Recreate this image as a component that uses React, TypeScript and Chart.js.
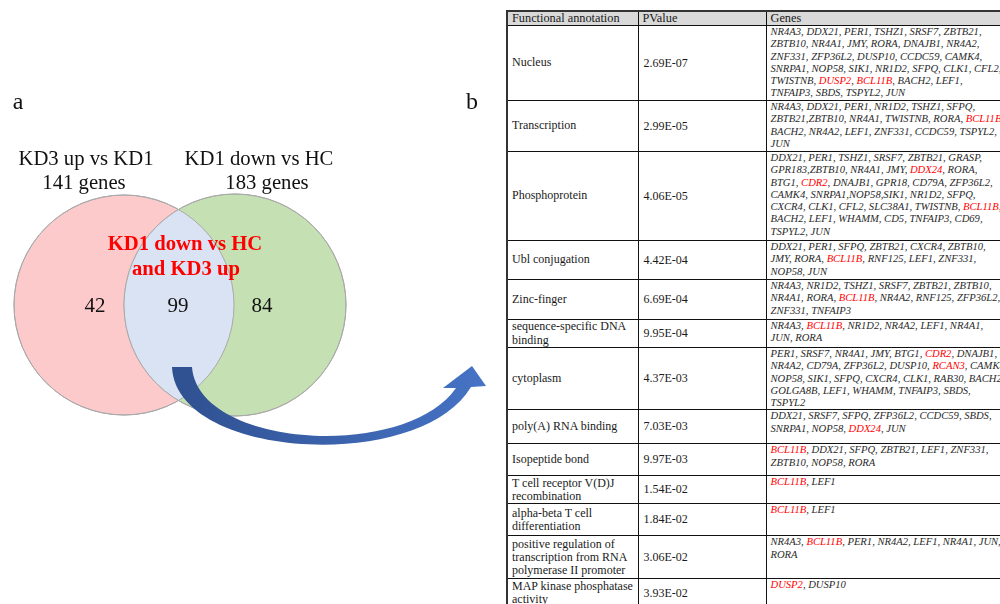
import React, { useEffect, useRef } from "react";
import { Chart, registerables } from "chart.js";

Chart.register(...registerables);

// ---------- Venn data ----------
const setNames = ["KD3 up vs KD1", "KD1 down vs HC"];
const setTotals = [141, 183];
const regionCounts = [42, 99, 84]; // left only, overlap, right only
const overlapTitle = ["KD1 down vs HC", "and KD3 up"];
const panelLetters = ["a", "b"];

// ---------- Table data ----------
const tableHeader = ["Functional annotation", "PValue", "Genes"];
const annotations = [
  ["Nucleus"],
  ["Transcription"],
  ["Phosphoprotein"],
  ["Ubl conjugation"],
  ["Zinc-finger"],
  ["sequence-specific DNA", "binding"],
  ["cytoplasm"],
  ["poly(A) RNA binding"],
  ["Isopeptide bond"],
  ["T cell receptor V(D)J", "recombination"],
  ["alpha-beta T cell", "differentiation"],
  ["positive regulation of", "transcription from RNA", "polymerase II promoter"],
  ["MAP kinase phosphatase", "activity"],
];
const pValues = [
  "2.69E-07", "2.99E-05", "4.06E-05", "4.42E-04", "6.69E-04", "9.95E-04", "4.37E-03",
  "7.03E-03", "9.97E-03", "1.54E-02", "1.84E-02", "3.06E-02", "3.93E-02",
];
const geneLines = [
  [
    "NR4A3, DDX21, PER1, TSHZ1, SRSF7, ZBTB21,",
    "ZBTB10, NR4A1, JMY, RORA, DNAJB1, NR4A2,",
    "ZNF331, ZFP36L2, DUSP10, CCDC59, CAMK4,",
    "SNRPA1, NOP58, SIK1, NR1D2, SFPQ, CLK1, CFL2,",
    "TWISTNB, DUSP2, BCL11B, BACH2, LEF1,",
    "TNFAIP3, SBDS, TSPYL2, JUN",
  ],
  [
    "NR4A3, DDX21, PER1, NR1D2, TSHZ1, SFPQ,",
    "ZBTB21,ZBTB10, NR4A1, TWISTNB, RORA, BCL11B,",
    "BACH2, NR4A2, LEF1, ZNF331, CCDC59, TSPYL2,",
    "JUN",
  ],
  [
    "DDX21, PER1, TSHZ1, SRSF7, ZBTB21, GRASP,",
    "GPR183,ZBTB10, NR4A1, JMY, DDX24, RORA,",
    "BTG1, CDR2, DNAJB1, GPR18, CD79A, ZFP36L2,",
    "CAMK4, SNRPA1,NOP58,SIK1, NR1D2, SFPQ,",
    "CXCR4, CLK1, CFL2, SLC38A1, TWISTNB, BCL11B,",
    "BACH2, LEF1, WHAMM, CD5, TNFAIP3, CD69,",
    "TSPYL2, JUN",
  ],
  [
    "DDX21, PER1, SFPQ, ZBTB21, CXCR4, ZBTB10,",
    "JMY, RORA, BCL11B, RNF125, LEF1, ZNF331,",
    "NOP58, JUN",
  ],
  [
    "NR4A3, NR1D2, TSHZ1, SRSF7, ZBTB21, ZBTB10,",
    "NR4A1, RORA, BCL11B, NR4A2, RNF125, ZFP36L2,",
    "ZNF331, TNFAIP3",
  ],
  ["NR4A3, BCL11B, NR1D2, NR4A2, LEF1, NR4A1,", "JUN, RORA"],
  [
    "PER1, SRSF7, NR4A1, JMY, BTG1, CDR2, DNAJB1,",
    "NR4A2, CD79A, ZFP36L2, DUSP10, RCAN3, CAMK4,",
    "NOP58, SIK1, SFPQ, CXCR4, CLK1, RAB30, BACH2,",
    "GOLGA8B, LEF1, WHAMM, TNFAIP3, SBDS,",
    "TSPYL2",
  ],
  ["DDX21, SRSF7, SFPQ, ZFP36L2, CCDC59, SBDS,", "SNRPA1, NOP58, DDX24, JUN"],
  ["BCL11B, DDX21, SFPQ, ZBTB21, LEF1, ZNF331,", "ZBTB10, NOP58, RORA"],
  ["BCL11B, LEF1"],
  ["BCL11B, LEF1"],
  ["NR4A3, BCL11B, PER1, NR4A2, LEF1, NR4A1, JUN,", "RORA"],
  ["DUSP2, DUSP10"],
];
const highlightedGenes = ["DUSP2", "BCL11B", "DDX24", "CDR2", "RCAN3"];

// ---------- layout (pixels, not data) ----------
const rowHeights = [75, 51, 89, 39, 40, 28, 60, 34, 32, 28, 32, 43, 29];
const SERIF = '"Liberation Serif", "Times New Roman", serif';

const vennPlugin = {
  id: "vennDecor",
  afterDatasetsDraw(chart: any) {
    const ctx: CanvasRenderingContext2D = chart.ctx;
    const xs = chart.scales.x;
    const ys = chart.scales.y;
    const px = (v: number) => xs.getPixelForValue(v);
    const py = (v: number) => ys.getPixelForValue(v);
    const els = chart.getDatasetMeta(0).data;
    const A = els[0];
    const B = els[1];
    const rA = A.options.radius;
    const rB = B.options.radius;

    ctx.save();
    ctx.beginPath();
    ctx.arc(A.x, A.y, rA, 0, Math.PI * 2);
    ctx.clip();
    ctx.beginPath();
    ctx.arc(B.x, B.y, rB, 0, Math.PI * 2);
    ctx.fillStyle = "#dae3f3";
    ctx.fill();
    ctx.restore();

    ctx.save();
    ctx.strokeStyle = "#a9a9a9";
    ctx.lineWidth = 1;
    ctx.beginPath();
    ctx.arc(A.x, A.y, rA, 0, Math.PI * 2);
    ctx.stroke();
    ctx.beginPath();
    ctx.arc(B.x, B.y, rB, 0, Math.PI * 2);
    ctx.stroke();
    ctx.restore();

    ctx.save();
    ctx.textAlign = "center";
    ctx.textBaseline = "middle";
    ctx.fillStyle = "#111";
    ctx.font = `24px ${SERIF}`;
    ctx.fillText(panelLetters[0], px(18), py(103));
    ctx.fillText(panelLetters[1], px(472), py(103));

    ctx.font = `20.7px ${SERIF}`;
    ctx.fillText(setNames[0], px(86), py(160));
    ctx.fillText(`${setTotals[0]} genes`, px(84), py(184));
    ctx.fillText(setNames[1], px(259), py(160));
    ctx.fillText(`${setTotals[1]} genes`, px(267), py(184));

    ctx.font = `21px ${SERIF}`;
    ctx.fillText(String(regionCounts[0]), px(95), py(306));
    ctx.fillText(String(regionCounts[1]), px(178), py(306));
    ctx.fillText(String(regionCounts[2]), px(262), py(306));

    ctx.fillStyle = "#ff0000";
    ctx.font = `bold 20.7px ${SERIF}`;
    ctx.fillText(overlapTitle[0], px(185), py(245));
    ctx.fillText(overlapTitle[1], px(186), py(270));
    ctx.restore();

    ctx.save();
    const grad = ctx.createLinearGradient(px(170), 0, px(486), 0);
    grad.addColorStop(0, "#2f5090");
    grad.addColorStop(1, "#4673c6");
    ctx.fillStyle = grad;
    ctx.beginPath();
    ctx.moveTo(px(172), py(367));
    ctx.lineTo(px(192), py(367));
    ctx.bezierCurveTo(px(198), py(448), px(405), py(461), px(456), py(388));
    ctx.lineTo(px(443), py(388));
    ctx.lineTo(px(472), py(366));
    ctx.lineTo(px(486), py(386));
    ctx.lineTo(px(471), py(387));
    ctx.bezierCurveTo(px(420), py(473), px(176), py(460), px(172), py(367));
    ctx.closePath();
    ctx.fill();
    ctx.restore();
  },
};

function GeneLine({ text }: { text: string }) {
  const parts = text.split(/(,\s*)/);
  return (
    <div style={{ whiteSpace: "nowrap" }}>
      {parts.map((p, i) =>
        highlightedGenes.includes(p) ? (
          <span key={i} style={{ color: "#ff0000" }}>{p}</span>
        ) : (
          <span key={i}>{p}</span>
        )
      )}
    </div>
  );
}

export default function App() {
  const ref = useRef<HTMLCanvasElement | null>(null);

  useEffect(() => {
    if (!ref.current) return;
    const chart = new Chart(ref.current, {
      type: "bubble",
      data: {
        datasets: [
          {
            data: [
              { x: 124, y: 305, r: 110 },
              { x: 235, y: 305, r: 111 },
            ],
            backgroundColor: ["#fccaca", "#c5e0b3"],
            borderColor: "#a9a9a9",
            borderWidth: 1,
            clip: false as any,
          },
        ],
      },
      options: {
        responsive: false,
        animation: false,
        events: [],
        devicePixelRatio: 1,
        layout: { padding: 0, autoPadding: false },
        plugins: { legend: { display: false }, tooltip: { enabled: false } },
        scales: {
          x: { type: "linear", min: 0, max: 505, display: false },
          y: { type: "linear", min: 0, max: 604, reverse: true, display: false },
        },
      },
      plugins: [vennPlugin],
    });
    return () => chart.destroy();
  }, []);

  const cellBase: React.CSSProperties = {
    border: "1px solid #111",
    padding: "0 4px",
    boxSizing: "border-box",
    overflow: "hidden",
  };

  return (
    <div
      style={{
        position: "absolute",
        left: 0,
        top: 0,
        width: 1000,
        height: 604,
        overflow: "hidden",
        background: "#fff",
      }}
    >
      <canvas
        ref={ref}
        width={505}
        height={604}
        style={{ position: "absolute", left: 0, top: 0, width: 505, height: 604 }}
      />
      <table
        style={{
          position: "absolute",
          left: 506,
          top: 10,
          width: 512,
          borderCollapse: "collapse",
          tableLayout: "fixed",
          fontFamily: SERIF,
          color: "#1a1a1a",
          border: "2px solid #333",
        }}
      >
        <colgroup>
          <col style={{ width: 131 }} />
          <col style={{ width: 128 }} />
          <col style={{ width: 253 }} />
        </colgroup>
        <thead>
          <tr>
            {tableHeader.map((h, i) => (
              <th
                key={i}
                style={{
                  ...cellBase,
                  height: 14,
                  background: "#d9d9d9",
                  fontWeight: "normal",
                  textAlign: "left",
                  fontSize: 12.3,
                  lineHeight: "13px",
                  whiteSpace: "nowrap",
                }}
              >
                {h}
              </th>
            ))}
          </tr>
        </thead>
        <tbody>
          {annotations.map((a, r) => (
            <tr key={r}>
              <td
                style={{
                  ...cellBase,
                  height: rowHeights[r],
                  fontSize: 12,
                  lineHeight: "13.3px",
                  verticalAlign: "middle",
                }}
              >
                {a.map((l, k) => (
                  <div key={k} style={{ whiteSpace: "nowrap" }}>{l}</div>
                ))}
              </td>
              <td
                style={{
                  ...cellBase,
                  height: rowHeights[r],
                  fontSize: 12,
                  lineHeight: "13px",
                  verticalAlign: "middle",
                  paddingLeft: 5,
                }}
              >
                {pValues[r]}
              </td>
              <td
                style={{
                  ...cellBase,
                  height: rowHeights[r],
                  fontSize: 10.6,
                  lineHeight: "12.3px",
                  fontStyle: "italic",
                  verticalAlign: "top",
                  color: "#2a2a2a",
                }}
              >
                {geneLines[r].map((l, k) => (
                  <GeneLine key={k} text={l} />
                ))}
              </td>
            </tr>
          ))}
        </tbody>
      </table>
    </div>
  );
}
